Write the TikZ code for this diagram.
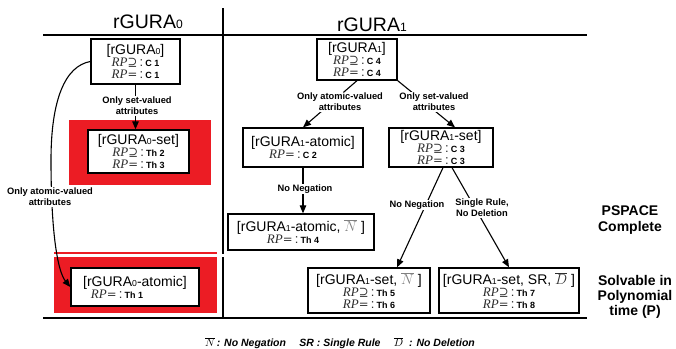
\documentclass[tikz,border=0pt]{standalone}
\usepackage{fontspec}
\setmainfont{Liberation Sans}
\newfontfamily\rpserif{Liberation Serif}
\newfontfamily\symserif[Scale=0.9]{DejaVu Serif}
\usetikzlibrary{arrows.meta, positioning}
\definecolor{hardRed}{HTML}{EC1C24}
\definecolor{rpGrey}{HTML}{2E2E2E}
\newcommand{\lv}[1]{\scalebox{0.62}{#1}}
\newcommand{\ttl}[1]{{\fontsize{14}{14}\selectfont #1}}
\newcommand{\rpl}[2]{{\color{rpGrey}{\rpserif\itshape RP}{\symserif #1}\,:}\,{\fontsize{9}{9}\selectfont\bfseries #2}}
\newcommand{\nobar}[1]{$\overline{#1}$}
\tikzset{
  colhead/.style = {font=\fontsize{19.5}{20}\selectfont, anchor=base},
  probbox/.style = {draw, line width=1.3pt, fill=white, align=center, inner sep=0pt,
                    font=\fontsize{13}{12}\selectfont},
  flow/.style    = {-{Triangle[length=8pt,width=6.5pt]}, line width=1.1pt},
  cond/.style    = {font=\fontsize{9.3}{11}\selectfont\bfseries, fill=white,
                    align=center, inner sep=1pt},
  verdict/.style = {font=\fontsize{14}{15}\selectfont\bfseries, align=center},
}

\begin{document}
\begin{tikzpicture}[x=1pt,y=-1pt]
  \useasboundingbox (0,0) rectangle (676,348);
  % red zones
  \fill[hardRed] (69,120) rectangle (211,185);
  \fill[hardRed] (54,252) rectangle (217,313);
  % table frame
  \draw[line width=1.3pt] (223,8) -- (223,318);
  \draw[line width=1.3pt] (43,35) -- (587,35);
  \draw[line width=1.8pt] (43,318) -- (587,318);
  \draw[gray!35, line width=0.6pt, double=white, double distance=2.5pt] (43,255.5) -- (587,255.5);
  \node[colhead] (head0) at (148,28) {rGURA\lv{0}};
  \node[colhead] (head1) at (372,31) {rGURA\lv{1}};

  % rGURA0 column
  \node[probbox, minimum width=89, minimum height=45] (top0) at (135.5,61.5)
    {\ttl{[rGURA\lv{0}]}\\ \rpl{⊇}{C 1}\\ \rpl{=}{C 1}};
  \node[probbox, minimum width=101, minimum height=43] (set0) at (138.5,151.5)
    {\ttl{[rGURA\lv{0}-set]}\\ \rpl{⊇}{Th 2}\\ \rpl{=}{Th 3}};
  \node[probbox, minimum width=128, minimum height=38] (atomic0) at (135,287)
    {\ttl{[rGURA\lv{0}-atomic]}\\ \rpl{=}{Th 1}\hspace*{36pt}};

  % rGURA1 column
  \node[probbox, minimum width=80, minimum height=41] (top1) at (357,59.5)
    {\ttl{[rGURA\lv{1}]}\\ \rpl{⊇}{C 4}\\ \rpl{=}{C 4}};
  \node[probbox, minimum width=120, minimum height=39] (atomic1) at (303,147.5)
    {\ttl{[rGURA\lv{1}-atomic]}\\ \rpl{=}{C 2}\hspace*{20pt}};
  \node[probbox, minimum width=104, minimum height=39] (set1) at (441,147.5)
    {\ttl{[rGURA\lv{1}-set]}\\ \rpl{⊇}{C 3}\\ \rpl{=}{C 3}};
  \node[probbox, minimum width=146, minimum height=36] (atomicN) at (301,232)
    {\ttl{[rGURA\lv{1}-atomic, {\color{gray}\nobar{N}}\;]}\\ \rpl{=}{Th 4}\hspace*{16pt}};
  \node[probbox, minimum width=122, minimum height=45] (setN) at (369,290.5)
    {\ttl{[rGURA\lv{1}-set, {\color{gray}\nobar{N}}\;]}\\ \rpl{⊇}{Th 5}\\ \rpl{=}{Th 6}};
  \node[probbox, minimum width=140, minimum height=45] (setSRD) at (509,290.5)
    {\ttl{[rGURA\lv{1}-set, SR, {\color{rpGrey}\nobar{D}}\;]}\\ \rpl{⊇}{Th 7}\\ \rpl{=}{Th 8}};

  % reductions
  \draw[flow] (top0.south) -- (top0.south |- set0.north);
  \draw[flow] (top0.west) .. controls (65,66) and (51,100) .. (51,160)
              .. controls (51,235) and (58,272) .. (atomic0.west);
  \draw[flow] (top1.south) -- (atomic1.north);
  \draw[flow] (top1.south east) -- ([xshift=14]set1.north);
  \draw[flow] (atomic1.south) -- (atomic1.south |- atomicN.north);
  \draw[flow] ([xshift=2]set1.south) -- ([xshift=28]setN.north);
  \draw[flow] ([xshift=11]set1.south) -- (setSRD.north);

  \node[cond] (c0set) at (137,106) {Only set-valued\\attributes};
  \node[cond] (c0atom) at (50,197) {Only atomic-valued\\attributes};
  \node[cond] (c1atom) at (340,102) {Only atomic-valued\\attributes};
  \node[cond] (c1set) at (434,102) {Only set-valued\\attributes};
  \node[cond] (cneg1) at (305,189) {No Negation};
  \node[cond] (cneg2) at (417,205) {No Negation};
  \node[cond] (csrd) at (482,208) {Single Rule,\\No Deletion};

  % complexity classes
  \node[verdict, font=\fontsize{14}{16}\selectfont\bfseries] (pspace) at (630,220) {PSPACE\\Complete};
  \node[verdict] (poly) at (635,297) {Solvable in\\Polynomial\\time (P)};

  \node[font=\fontsize{10.5}{12}\selectfont\bfseries\itshape] (legend) at (340,343)
    {\nobar{N}\,: No Negation\quad\ SR : Single Rule\quad\ \nobar{D}\ \ : No Deletion};
\end{tikzpicture}
\end{document}
